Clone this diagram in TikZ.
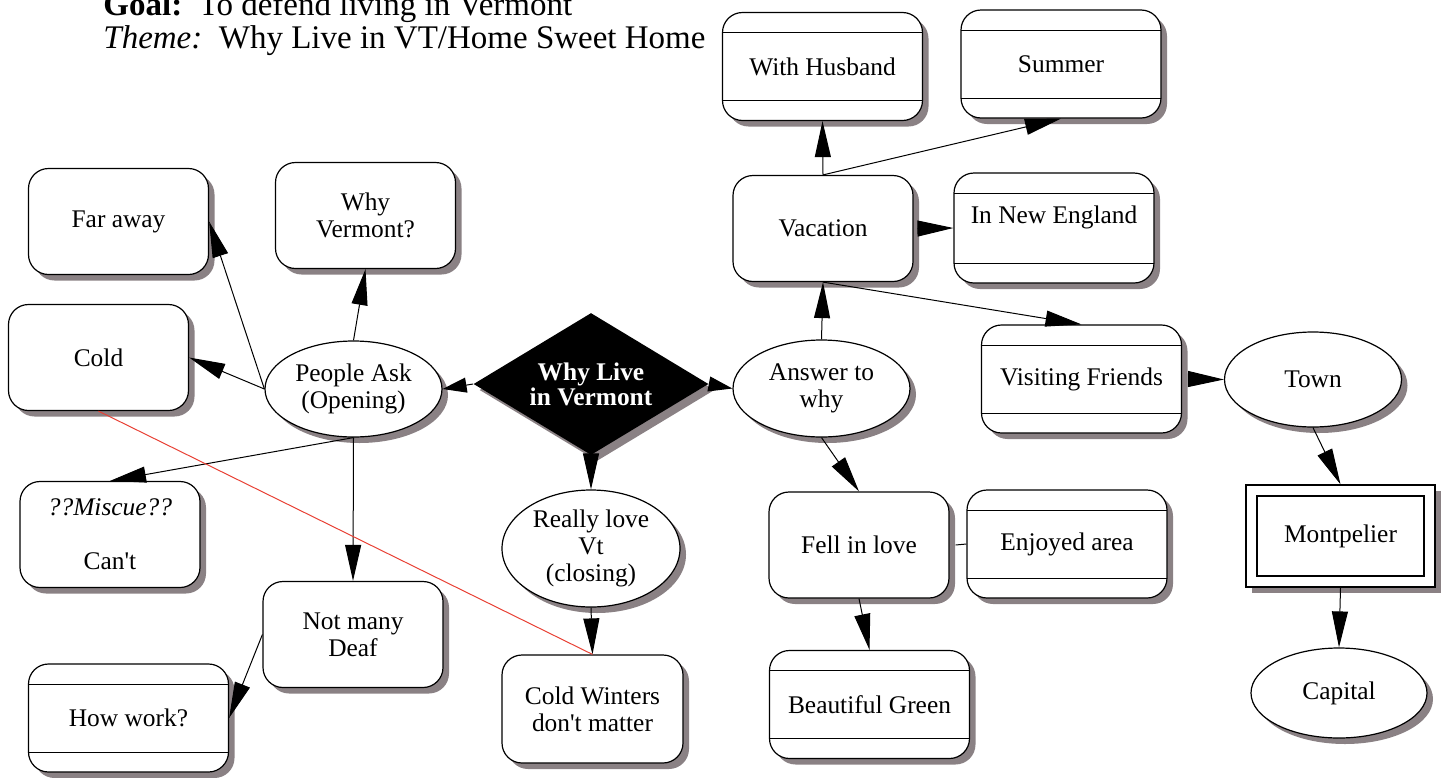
\documentclass[tikz,border=0pt]{standalone}
\usepackage{fontspec}
\setmainfont{Liberation Serif}[Ligatures=TeXOff]
\usetikzlibrary{shapes.geometric,shadows,arrows.meta}
\definecolor{shadowgray}{RGB}{138,129,132}
\definecolor{redline}{RGB}{232,64,52}

\begin{document}
\begin{tikzpicture}[x=0.5pt, y=-0.5pt,
  every node/.style={font=\fontsize{12.7}{13.5}\selectfont, align=center, inner sep=0pt},
  dropgray/.style={drop shadow={shadow xshift=3pt, shadow yshift=-3pt, fill=shadowgray, opacity=1}},
  box/.style={draw, line width=0.6pt, fill=white, rounded corners=10pt, minimum width=90pt, minimum height=53pt, dropgray},
  lined/.style={box, minimum width=100pt, minimum height=54pt, path picture={
      \draw[line width=0.5pt] ([yshift=-10pt]path picture bounding box.north west) -- ([yshift=-10pt]path picture bounding box.north east);
      \draw[line width=0.5pt] ([yshift=10pt]path picture bounding box.south west) -- ([yshift=10pt]path picture bounding box.south east);}},
  oval/.style={ellipse, draw, line width=0.6pt, fill=white, minimum width=88.5pt, minimum height=48pt, dropgray},
  link/.style={-{Triangle[length=18pt,width=8pt]}, line width=0.5pt},
  shortlink/.style={-{Triangle[length=12pt,width=7.5pt]}, line width=0.5pt}]
\useasboundingbox (0,0) rectangle (1445,777);

% heading
\node[anchor=base west, align=left, font=\fontsize{16.5}{19}\selectfont] (goal) at (103,15) {\textbf{Goal:}\ \ To defend living in Vermont};
\node[anchor=base west, align=left, font=\fontsize{16.5}{19}\selectfont] (theme) at (103,48) {\textit{Theme:}\ \ Why Live in VT/Home Sweet Home};

% centre
\node[diamond, fill=black, aspect=1.65, minimum width=117.5pt, minimum height=71pt, dropgray, text=white,
      font=\bfseries\fontsize{12.7}{11.5}\selectfont] (topic) at (591,384) {Why Live\\in Vermont};

% left side
\node[oval] (people) at (353.5,389) {People Ask\\(Opening)};
\node[box] (whyvt) at (365.5,215.5) {Why\\Vermont?};
\node[box] (faraway) at (118.5,221.5) {Far away};
\node[box] (cold) at (98.5,357.5) {Cold};
\node[box] (miscue) at (110,534.5) {\textit{??Miscue??}\\[13.5pt]Can't};
\node[box] (notmany) at (353,634.5) {Not many\\Deaf};
\node[lined] (howwork) at (128.5,718) {How work?};
\node[oval, minimum width=89pt, minimum height=58.5pt] (really) at (591,548.5) {Really love\\Vt\\(closing)};
\node[box, minimum width=90.5pt, minimum height=54pt] (winters) at (592.5,709) {Cold Winters\\don't matter};

% right side
\node[oval, minimum height=48.5pt] (answer) at (821.5,388.5) {Answer to\\why};
\node[box] (vacation) at (823,228.5) {Vacation};
\node[lined] (husband) at (822.5,66.5) {With Husband};
\node[lined] (summer) at (1061,64) {Summer};
\node[lined, minimum height=55pt] (newengland) at (1054,228) {In New England\\\mbox{}};
\node[lined] (friends) at (1081.5,379) {Visiting Friends};
\node[oval, minimum height=47.5pt] (town) at (1313,379.5) {Town};
\node[draw, line width=0.6pt, fill=white, minimum width=94.5pt, minimum height=51pt, dropgray, path picture={
      \draw[line width=0.6pt] ([shift={(5.5pt,-5.5pt)}]path picture bounding box.north west) rectangle ([shift={(-5.5pt,5.5pt)}]path picture bounding box.south east);}]
      (montpelier) at (1340.5,536) {Montpelier};
\node[oval, minimum width=88pt, minimum height=45pt] (capital) at (1339,693) {Capital};
\node[box] (fell) at (859,545) {Fell in love};
\node[lined] (enjoyed) at (1067,544) {Enjoyed area};
\node[lined] (green) at (869.5,704.5) {Beautiful Green};

% connectors
\draw[shortlink] (topic.west) -- (people.east);
\draw[shortlink] (topic.east) -- (answer.west);
\draw[link] (topic.south) -- (really.north);
\draw[link] (really.south) -- (winters.north);
\draw[link] (people.north) -- (whyvt.south);
\draw[link] (people.west) -- (faraway.east);
\draw[link] (people.west) -- (cold.east);
\draw[link] (people.south) -- (miscue.north);
\draw[link] (people.south) -- (notmany.north);
\draw[link] (notmany.west) -- (howwork.east);
\draw[redline, line width=0.5pt] (cold.south) -- (winters.north);
\draw[link] (answer.north) -- (vacation.south);
\draw[link] (answer.south) -- (fell.north);
\draw[link] (vacation.north) -- (husband.south);
\draw[link] (vacation.north) -- (summer.south);
\draw[link] ([xshift=3pt]vacation.east) -- (newengland.west);
\draw[link] (vacation.south) -- (friends.north);
\draw[link] ([xshift=3pt]friends.east) -- (town.west);
\draw[link] (town.south) -- (montpelier.north);
\draw[link] (montpelier.south) -- (capital.north);
\draw[line width=0.5pt] ([xshift=3pt]fell.east) -- (enjoyed.west);
\draw[link] (fell.south) -- (green.north);
\end{tikzpicture}
\end{document}
